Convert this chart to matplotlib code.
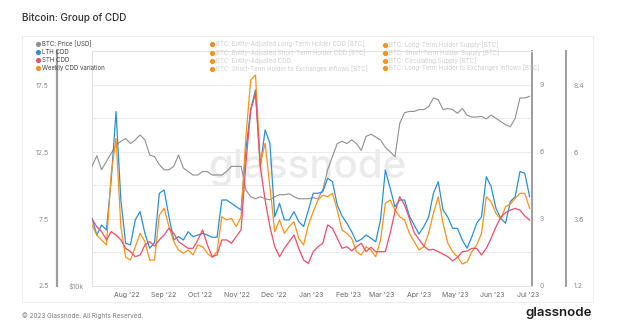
import matplotlib.pyplot as plt
import matplotlib.dates as mdates
from matplotlib.lines import Line2D
from matplotlib.patches import Rectangle
from matplotlib.ticker import NullLocator
import pandas as pd

plt.rcParams["font.family"] = ["Inter", "DejaVu Sans"]

W, H = 627, 335

# ---- data (one point every 4 days) ----
dates = pd.date_range("2022-07-03", periods=92, freq="4D")

price_k = [20.2, 21.5, 19.8, 20.8, 21.8, 22.9, 23.4, 23.8, 23.1, 23.6, 24.3, 23.6,
           21.6, 21.4, 20.4, 19.8, 19.8, 20.2, 21.6, 20.0, 19.6, 19.2, 19.2, 19.6,
           19.6, 19.2, 19.2, 19.2, 19.6, 20.2, 20.2, 20.2, 17.6, 16.9, 16.7, 16.9,
           16.7, 16.6, 16.9, 17.1, 17.1, 17.2, 16.9, 16.7, 16.7, 16.7, 16.8, 16.7,
           17.6, 19.8, 21.4, 23.1, 23.4, 23.1, 23.6, 23.1, 22.2, 24.1, 24.4, 24.0,
           23.6, 22.6, 22.0, 21.4, 26.0, 27.7, 27.9, 27.9, 28.2, 28.2, 28.7, 30.2,
           29.9, 28.2, 28.4, 28.2, 27.6, 28.4, 27.3, 27.0, 27.0, 27.1, 26.7, 27.3,
           26.8, 26.3, 25.8, 25.5, 26.8, 30.2, 30.2, 30.5]

lth_cdd = [3.03, 2.28, 2.73, 2.51, 4.75, 7.81, 3.85, 1.91, 1.84, 2.96, 3.33, 2.36,
           1.69, 1.94, 4.15, 4.30, 3.10, 2.06, 2.21, 2.06, 2.43, 2.21, 2.28, 2.36,
           2.28, 2.18, 2.18, 3.85, 3.85, 3.70, 3.55, 3.40, 6.09, 7.88, 8.78, 5.34,
           6.99, 6.39, 3.10, 3.70, 2.96, 2.96, 3.33, 2.88, 2.66, 3.40, 4.15, 4.15,
           4.22, 4.82, 4.67, 3.63, 3.13, 2.81, 2.43, 1.98, 2.09, 2.28, 2.14, 1.98,
           2.96, 5.19, 4.38, 3.55, 3.85, 3.85, 3.13, 2.73, 2.33, 2.66, 3.08, 4.15,
           4.67, 3.40, 3.08, 2.58, 2.58, 2.06, 1.69, 2.21, 2.81, 3.10, 4.89, 4.45,
           3.48, 3.03, 2.81, 3.78, 4.00, 5.12, 5.05, 4.00]

sth_cdd = [3.60, 3.32, 3.15, 2.85, 3.15, 3.03, 2.85, 2.55, 2.43, 2.25, 2.31, 2.67,
           2.79, 2.63, 2.85, 3.03, 3.27, 3.09, 2.79, 2.67, 2.55, 2.55, 2.85, 3.21,
           2.67, 2.25, 2.31, 2.85, 2.85, 2.73, 2.97, 3.21, 5.60, 7.50, 8.10, 5.47,
           4.28, 3.32, 2.61, 2.25, 2.55, 2.79, 3.03, 2.55, 2.13, 2.01, 2.43, 2.61,
           2.73, 3.39, 3.27, 2.91, 2.55, 2.61, 2.46, 2.61, 2.73, 2.43, 2.59, 2.43,
           2.43, 2.43, 3.09, 3.86, 4.40, 4.10, 3.62, 3.11, 2.87, 2.63, 2.49, 2.51,
           2.43, 2.34, 2.25, 2.10, 2.23, 2.43, 2.45, 2.55, 2.55, 2.31, 2.55, 2.91,
           3.32, 3.66, 3.83, 3.92, 3.98, 3.92, 3.71, 3.56]

weekly_var = [7.05, 6.31, 5.93, 5.56, 10.91, 13.52, 6.93, 4.64, 4.44, 5.43, 6.43, 5.81,
              4.44, 4.44, 7.80, 8.30, 6.93, 5.81, 5.19, 4.94, 5.19, 4.81, 5.56, 5.43,
              4.94, 4.64, 5.06, 7.67, 7.43, 7.55, 6.93, 7.67, 13.64, 17.87, 18.25, 11.66,
              13.15, 9.91, 6.55, 7.43, 6.43, 6.93, 7.30, 6.06, 5.56, 7.05, 8.04, 8.92,
              9.29, 9.16, 9.42, 8.17, 6.68, 6.43, 6.06, 5.06, 4.81, 5.43, 5.19, 4.69,
              5.93, 8.67, 8.92, 8.17, 7.67, 7.43, 6.43, 5.81, 5.19, 5.43, 6.43, 7.93,
              9.16, 7.18, 5.69, 5.06, 4.69, 4.14, 4.31, 5.06, 5.56, 6.43, 9.16, 8.79,
              7.93, 7.48, 8.42, 8.62, 9.04, 9.42, 9.42, 8.30]

main_labels = ["BTC: Price [USD]", "LTH CDD", "STH CDD", "Weekly CDD variation"]
hidden_mid = ["BTC: Entity-Adjusted Long-Term Holder CDD [BTC]",
              "BTC: Entity-Adjusted Short-Term Holder CDD [BTC]",
              "BTC: Entity-Adjusted CDD",
              "BTC: Short-Term Holder to Exchanges Inflows [BTC]"]
hidden_right = ["BTC: Long-Term Holder Supply [BTC]",
                "BTC: Short-Term Holder Supply [BTC]",
                "BTC: Circulating Supply [BTC]",
                "BTC: Long-Term Holder to Exchanges Inflows [BTC]"]

C_PRICE, C_LTH, C_STH, C_WK = "#8f8f8f", "#2b8fd6", "#ef4d6a", "#f7931a"
TICK_C = "#8c8c8c"


def fx(x):
    return x / W


def fy(y):
    return 1 - y / H


fig = plt.figure(figsize=(W / 100, H / 100), dpi=100)
fig.patches.append(Rectangle((fx(22), fy(302)), 571 / W, 266 / H, transform=fig.transFigure,
                             fc="white", ec="#ededed", lw=0.8, zorder=-5))

fig.text(fx(22), fy(18), "Bitcoin: Group of CDD", fontsize=7.2, weight="medium",
         color="#333333", va="center")
fig.text(fx(22), fy(316), "\u00a9 2023 Glassnode. All Rights Reserved.", fontsize=4.6,
         color="#7a7a7a", va="center")
fig.text(fx(592), fy(313), "glassnode", fontsize=9.5, weight="semibold", color="#1c1c1c",
         ha="right", va="center")

# base axes: grid + 0..9 scale on the right
ax = fig.add_axes([fx(92), fy(286), 440 / W, 235 / H])
ax.patch.set_alpha(0)
ax.set_xlim(pd.Timestamp("2022-07-03"), pd.Timestamp("2023-07-04"))
ax.set_ylim(0, 10.52)
ax.set_yticks([0, 1.5, 3, 4.5, 6, 7.5, 9])
ax.set_yticklabels(["0", "", "3", "", "6", "", "9"])
ax.grid(axis="y", color="#ebebeb", lw=0.7)
ax.set_axisbelow(True)
ax.xaxis.set_major_locator(mdates.MonthLocator())
ax.xaxis.set_major_formatter(mdates.DateFormatter("%b '%y"))
ax.tick_params(axis="x", length=0, labelsize=5, colors="#666666", pad=4)
ax.text(0.49, 0.46, "glassnode", transform=ax.transAxes, fontsize=29, weight="medium",
        color="#ebebeb", ha="center", va="baseline", zorder=0)

# price (log) on the inner left
axp = ax.twinx()
axp.set_yscale("log")
axp.set_ylim(10000, 39800)
axp.yaxis.tick_left()
axp.set_yticks([10000])
axp.set_yticklabels(["$10k"])
axp.yaxis.set_minor_locator(NullLocator())
axp.plot(dates, [p * 1000 for p in price_k], color=C_PRICE, lw=0.8)

# LTH CDD on the 0..9 scale
axb = ax.twinx()
axb.set_ylim(ax.get_ylim())
axb.set_yticks([])
axb.plot(dates, lth_cdd, color=C_LTH, lw=0.9)

# weekly variation on the outer left scale
axo = ax.twinx()
axo.yaxis.tick_left()
axo.spines["left"].set_position(("outward", 25.2))
axo.set_ylim(2.5, 20.04)
axo.set_yticks([2.5, 7.5, 12.5, 17.5])
axo.set_yticklabels(["2.5", "7.5", "12.5", "17.5"])
axo.plot(dates, weekly_var, color=C_WK, lw=0.9)

# STH CDD on the outer right scale
axr = ax.twinx()
axr.spines["right"].set_position(("outward", 24.5))
axr.set_ylim(1.2, 9.62)
axr.set_yticks([1.2, 3.6, 6, 8.4])
axr.set_yticklabels(["1.2", "3.6", "6", "8.4"])
axr.plot(dates, sth_cdd, color=C_STH, lw=0.9)

ax.yaxis.tick_right()

for a in (ax, axp, axb, axo, axr):
    for s in a.spines.values():
        s.set_visible(False)
    a.tick_params(axis="y", length=0, labelsize=5, colors=TICK_C, pad=5.8)

for side in ("top", "bottom", "left"):
    ax.spines[side].set_visible(True)
    ax.spines[side].set_color("#e2e2e2")
    ax.spines[side].set_linewidth(0.7)
ax.spines["right"].set_visible(True)
ax.spines["right"].set_color("#9d9d9d")
ax.spines["right"].set_linewidth(1.4)
axo.spines["left"].set_visible(True)
axo.spines["left"].set_color("#9d9d9d")
axo.spines["left"].set_linewidth(1.6)
axr.spines["right"].set_visible(True)
axr.spines["right"].set_color("#9d9d9d")
axr.spines["right"].set_linewidth(1.4)

# legend rows drawn at the top of the card
def legend_col(labels, colors, x, ys, text_color):
    for lab, col, y in zip(labels, colors, ys):
        fig.add_artist(Line2D([fx(x)], [fy(y)], marker="o", ms=2.7, color=col, lw=0,
                              transform=fig.transFigure))
        fig.text(fx(x + 4), fy(y), lab, fontsize=4.4, color=text_color, va="center")


legend_col(main_labels, [C_PRICE, C_LTH, C_STH, C_WK], 38, [44, 52, 60, 68], "#444444")
legend_col(hidden_mid, ["#ec8a1c"] + [C_WK] * 3, 212, [44, 53, 61, 69], "#cfcfcf")
legend_col(hidden_right, [C_WK] * 4, 385, [45, 53, 61, 68], "#cfcfcf")

fig.savefig("out.png", dpi=100)
